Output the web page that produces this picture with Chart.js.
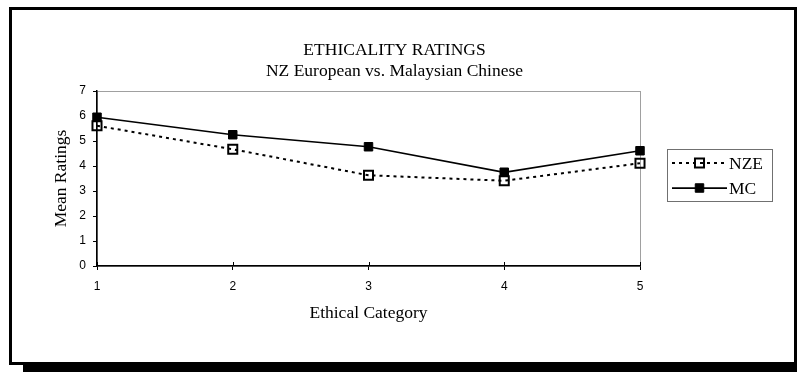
<!DOCTYPE html>
<html>
<head>
<meta charset="utf-8">
<script src="https://cdn.jsdelivr.net/npm/chart.js@4/dist/chart.umd.min.js"></script>
<style>
  html, body { margin: 0; padding: 0; background: #fff; }
  canvas { display: block; }
</style>
</head>
<body>
<canvas id="chart" width="797" height="372"></canvas>
<script>
// Ethical categories on the x axis
const categories = ['1', '2', '3', '4', '5'];
// Mean ratings, NZ European respondents
const nzeRatings = [5.61, 4.67, 3.63, 3.41, 4.11];
// Mean ratings, Malaysian Chinese respondents
const mcRatings = [5.95, 5.25, 4.77, 3.75, 4.61];
const seriesNames = ['NZE', 'MC'];
const titleLines = ['ETHICALITY RATINGS', 'NZ European vs. Malaysian Chinese'];
const xTitle = 'Ethical Category';
const yTitle = 'Mean Ratings';

const SERIF = '"Liberation Serif", "Times New Roman", serif';
const SANS = '"Liberation Sans", Arial, sans-serif';

// White page with a black frame and a drop shadow along the bottom
const framePlugin = {
  id: 'frame',
  beforeDraw(chart) {
    const ctx = chart.ctx;
    ctx.save();
    ctx.fillStyle = '#fff';
    ctx.fillRect(0, 0, chart.width, chart.height);
    ctx.fillStyle = '#000';
    ctx.fillRect(9, 7, 788, 3);
    ctx.fillRect(9, 7, 3, 358);
    ctx.fillRect(794, 7, 3, 358);
    ctx.fillRect(9, 362, 788, 3);
    ctx.fillRect(23, 362, 774, 10);
    // grey outline of the plot area (axes are drawn over its left/bottom edges)
    const a = chart.chartArea;
    ctx.strokeStyle = '#a0a0a0';
    ctx.lineWidth = 1;
    ctx.strokeRect(Math.round(a.left) + 0.5, Math.round(a.top) + 0.5,
                   Math.round(a.right - a.left), Math.round(a.bottom - a.top));
    ctx.restore();
  }
};

// Category ticks cross the x axis: add the half that points into the plot
const crossTicksPlugin = {
  id: 'crossTicks',
  afterDraw(chart) {
    const x = chart.scales.x;
    const ctx = chart.ctx;
    ctx.save();
    ctx.strokeStyle = '#000';
    ctx.lineWidth = 1;
    ctx.beginPath();
    x.ticks.forEach((t, i) => {
      const px = Math.round(x.getPixelForTick(i)) + 0.5;
      ctx.moveTo(px, x.top - 4);
      ctx.lineTo(px, x.top);
    });
    ctx.stroke();
    ctx.restore();
  }
};

// Boxed legend with line-and-marker samples
const boxLegendPlugin = {
  id: 'boxLegend',
  afterDraw(chart) {
    const ctx = chart.ctx;
    const box = { x: 667, y: 149, w: 105, h: 52 };
    ctx.save();
    ctx.fillStyle = '#fff';
    ctx.fillRect(box.x, box.y, box.w, box.h);
    ctx.strokeStyle = '#707070';
    ctx.lineWidth = 1;
    ctx.strokeRect(box.x + 0.5, box.y + 0.5, box.w, box.h);
    chart.data.datasets.forEach((ds, i) => {
      const cy = box.y + 14 + i * 25;
      const x0 = box.x + 5, x1 = box.x + 60, cx = (x0 + x1) / 2;
      ctx.strokeStyle = ds.borderColor;
      ctx.lineWidth = ds.borderWidth;
      ctx.setLineDash(ds.borderDash || []);
      ctx.beginPath();
      ctx.moveTo(x0, cy);
      ctx.lineTo(x1, cy);
      ctx.stroke();
      ctx.setLineDash([]);
      ctx.fillStyle = ds.pointBackgroundColor;
      ctx.strokeStyle = ds.pointBorderColor;
      ctx.lineWidth = ds.pointBorderWidth;
      ctx.beginPath();
      const s = Math.SQRT1_2 * ds.pointRadius;
      ctx.rect(cx - s, cy - s, 2 * s, 2 * s);
      ctx.fill();
      ctx.stroke();
      ctx.fillStyle = '#000';
      ctx.font = '17.5px ' + SERIF;
      ctx.textBaseline = 'middle';
      ctx.textAlign = 'left';
      ctx.fillText(ds.label, x1 + 2, cy + 1);
    });
    ctx.restore();
  }
};

new Chart(document.getElementById('chart'), {
  type: 'line',
  data: {
    labels: categories,
    datasets: [
      {
        label: seriesNames[0],
        data: nzeRatings,
        borderColor: '#000',
        borderWidth: 2,
        borderDash: [3, 4],
        pointStyle: 'rect',
        pointRadius: 6.4,
        pointBorderWidth: 2,
        pointBorderColor: '#000',
        pointBackgroundColor: 'rgba(0,0,0,0)',
        tension: 0
      },
      {
        label: seriesNames[1],
        data: mcRatings,
        borderColor: '#000',
        borderWidth: 1.75,
        pointStyle: 'rect',
        pointRadius: 6,
        pointBorderWidth: 1,
        pointBorderColor: '#000',
        pointBackgroundColor: '#000',
        tension: 0
      }
    ]
  },
  options: {
    responsive: false,
    animation: false,
    devicePixelRatio: 1,
    layout: { padding: { left: 10, right: 18, top: 10, bottom: 10 } },
    plugins: {
      legend: { display: false },
      tooltip: { enabled: false },
      title: {
        display: true,
        text: titleLines,
        color: '#000',
        font: { family: SERIF, size: 17.5, weight: 'normal', lineHeight: 1.2 },
        padding: { top: 29.5, bottom: 9.5 }
      }
    },
    scales: {
      x: {
        type: 'category',
        offset: false,
        grid: { display: true, drawOnChartArea: false, drawTicks: true, tickLength: 4, color: '#000' },
        border: { display: true, color: '#000', width: 1.5 },
        ticks: { color: '#000', font: { family: SANS, size: 12 }, padding: 9, maxRotation: 0 },
        title: {
          display: true, text: xTitle, color: '#000',
          font: { family: SERIF, size: 17.5 },
          padding: { top: 0, bottom: 38.5 }
        },
        afterFit(s) { s.height = 96; }
      },
      y: {
        min: 0,
        max: 7,
        ticks: { stepSize: 1, color: '#000', font: { family: SANS, size: 12 }, padding: 7 },
        grid: { display: true, drawOnChartArea: false, drawTicks: true, tickLength: 4, color: '#000' },
        border: { display: true, color: '#000', width: 1.5 },
        title: {
          display: true, text: yTitle, color: '#000',
          font: { family: SERIF, size: 17.5 },
          padding: { top: 40.5, bottom: 0 }
        },
        afterFit(s) { s.width = 87; }
      },
      yLegendSpace: {
        type: 'linear',
        position: 'right',
        display: true,
        grid: { display: false, drawTicks: false },
        border: { display: false },
        ticks: { display: false },
        afterFit(s) { s.width = 139; }
      }
    }
  },
  plugins: [framePlugin, crossTicksPlugin, boxLegendPlugin]
});
</script>
</body>
</html>
